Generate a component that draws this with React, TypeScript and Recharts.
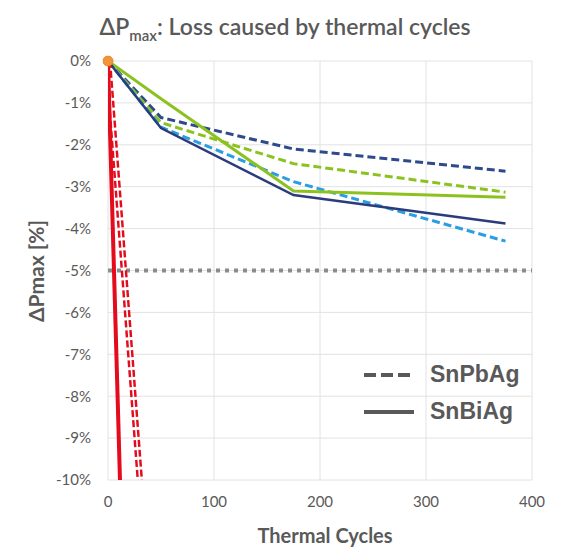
import React from "react";
import {
  ComposedChart,
  Line,
  XAxis,
  YAxis,
  CartesianGrid,
  ReferenceLine,
} from "recharts";

// Thermal cycles at which the modules were measured
const cycles = [0, 50, 175, 375];
// SnPbAg (dashed)
const snpbNavy = [0, -1.35, -2.1, -2.63];
const snpbGreen = [0, -1.47, -2.45, -3.13];
const snpbBlue = [0, -1.58, -2.88, -4.3];
// SnBiAg (solid)
const snbiNavy = [0, -1.6, -3.2, -3.88];
const snbiGreen = [0, -0.9, -3.1, -3.25];
// Red reference modules (steep failures)
const redSolidCycles = [0, 11.3];
const redSolidLoss = [0, -10];
const redDashCycles = [0, 30];
const redDashLoss = [0, -10];
// Origin marker
const originCycles = [0];
const originLoss = [0];
// Threshold
const threshold = -5;
// Ticks
const xTicks = [0, 100, 200, 300, 400];
const yTicks = [0, -1, -2, -3, -4, -5, -6, -7, -8, -9, -10];

const mainData = cycles.map((x, i) => ({
  x,
  snpbNavy: snpbNavy[i],
  snpbGreen: snpbGreen[i],
  snpbBlue: snpbBlue[i],
  snbiNavy: snbiNavy[i],
  snbiGreen: snbiGreen[i],
}));
const redSolidData = redSolidCycles.map((x, i) => ({ x, y: redSolidLoss[i] }));
const redDashData = redDashCycles.map((x, i) => ({ x, y: redDashLoss[i] }));
const originData = originCycles.map((x, i) => ({ x, y: originLoss[i] }));

const GRAY = "#595959";
const NAVY = "#2E4A8A";
const NAVY_SOLID = "#2B3C7C";
const GREEN = "#8CC21F";
const BLUE = "#2A9DE3";
const RED = "#E30B1C";

export default function App() {
  const W = 554;
  const H = 540;
  return (
    <div style={{ position: "relative", width: W, height: H, fontFamily: "Lato, sans-serif" }}>
      <div
        style={{
          position: "absolute",
          left: 0,
          top: 4,
          width: W,
          textAlign: "center",
          fontSize: 23,
          fontWeight: 600,
          color: GRAY,
          lineHeight: "28px",
        }}
      >
        ΔP<sub style={{ fontSize: 15, verticalAlign: "-6px" }}>max</sub>: Loss caused by thermal cycles
      </div>
      <ComposedChart
        width={W}
        height={H}
        data={mainData}
        margin={{ top: 53, right: 30, left: 40, bottom: 38 }}
      >
        <CartesianGrid stroke="#E2E2E2" strokeWidth={1} />
        <XAxis
          type="number"
          dataKey="x"
          domain={[0, 400]}
          ticks={xTicks}
          axisLine={false}
          tickLine={false}
          tickMargin={10}
          height={30}
          tick={{ fill: GRAY, fontSize: 15, fontFamily: "Lato, sans-serif" }}
          allowDataOverflow
        />
        <YAxis
          type="number"
          domain={[-10, 0]}
          ticks={yTicks}
          axisLine={false}
          tickLine={false}
          tickMargin={11}
          width={60}
          allowDataOverflow
          tickFormatter={(v: number) => `${v}%`}
          tick={{ fill: GRAY, fontSize: 15, fontFamily: "Lato, sans-serif" }}
        />
        <ReferenceLine
          y={threshold}
          stroke="#8C8C8C"
          strokeWidth={4}
          strokeDasharray="4 5"
        />
        <Line dataKey="snpbNavy" stroke={NAVY} strokeWidth={3} strokeDasharray="8 4" dot={false} isAnimationActive={false} />
        <Line dataKey="snpbGreen" stroke={GREEN} strokeWidth={3} strokeDasharray="8 4" dot={false} isAnimationActive={false} />
        <Line dataKey="snpbBlue" stroke={BLUE} strokeWidth={3} strokeDasharray="8 4" dot={false} isAnimationActive={false} />
        <Line dataKey="snbiGreen" stroke={GREEN} strokeWidth={3} dot={false} isAnimationActive={false} />
        <Line dataKey="snbiNavy" stroke={NAVY_SOLID} strokeWidth={2.5} dot={false} isAnimationActive={false} />
        <Line data={redDashData} dataKey="y" stroke={RED} strokeWidth={6.5} strokeDasharray="7 3" dot={false} isAnimationActive={false} />
        <Line data={redDashData} dataKey="y" stroke="#FFFFFF" strokeWidth={1.6} dot={false} isAnimationActive={false} />
        <Line data={redSolidData} dataKey="y" stroke={RED} strokeWidth={4} dot={false} isAnimationActive={false} />
        <Line
          data={originData}
          dataKey="y"
          stroke="none"
          dot={{ r: 5, fill: "#F0953A", stroke: "#E8862A", strokeWidth: 1, clipDot: false } as any}
          isAnimationActive={false}
        />
      </ComposedChart>
      <div
        style={{
          position: "absolute",
          left: 28,
          top: 263,
          width: 140,
          marginLeft: -70,
          marginTop: -14,
          height: 28,
          lineHeight: "28px",
          textAlign: "center",
          transform: "rotate(-90deg)",
          fontSize: 21,
          fontWeight: 700,
          color: GRAY,
        }}
      >
        ΔPmax [%]
      </div>
      <div
        style={{
          position: "absolute",
          left: 317 - 100,
          top: 514,
          width: 200,
          textAlign: "center",
          fontSize: 20,
          fontWeight: 700,
          color: GRAY,
          lineHeight: "26px",
        }}
      >
        Thermal Cycles
      </div>
      <div style={{ position: "absolute", left: 354, top: 348 }}>
        {[
          { name: "SnPbAg", dash: "12 5" },
          { name: "SnBiAg", dash: undefined },
        ].map((item) => (
          <div key={item.name} style={{ display: "flex", alignItems: "center", height: 37 }}>
            <svg width={60} height={10} style={{ marginRight: 8 }}>
              <line x1={2} y1={5} x2={52} y2={5} stroke={GRAY} strokeWidth={4} strokeDasharray={item.dash} />
            </svg>
            <span
              style={{
                fontFamily: "'Liberation Sans', Arial, sans-serif",
                fontWeight: 700,
                fontSize: 23,
                color: GRAY,
              }}
            >
              {item.name}
            </span>
          </div>
        ))}
      </div>
    </div>
  );
}
